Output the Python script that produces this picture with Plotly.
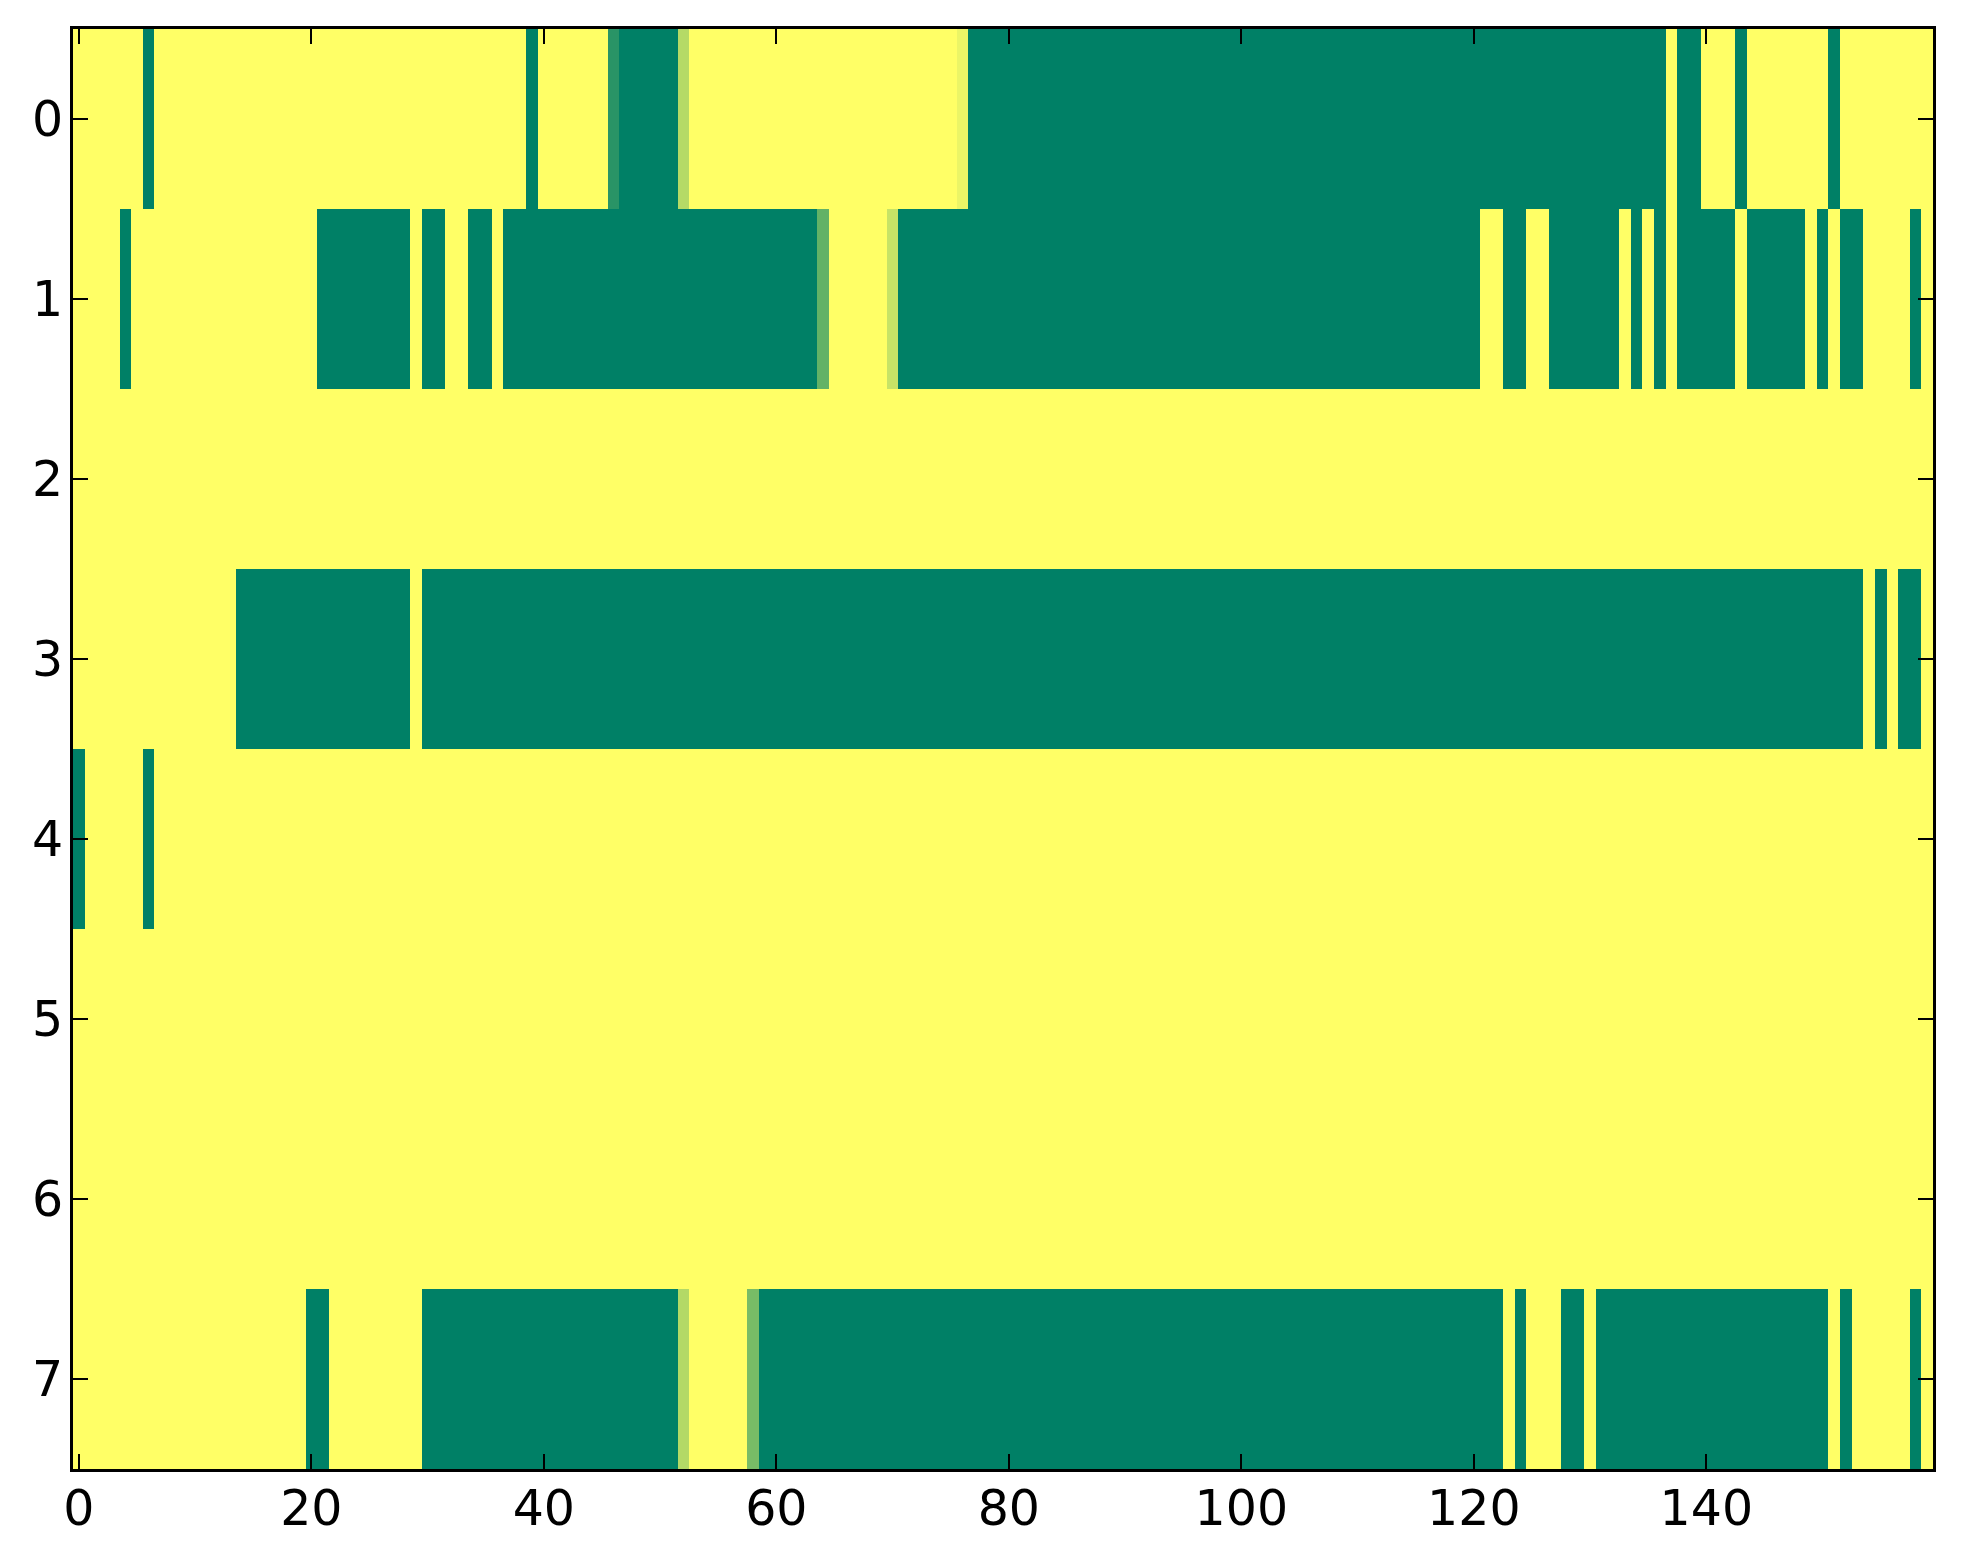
import plotly.graph_objects as go

# column indices and row labels
columns = list(range(160))
rows = list(range(8))
x_tick_values = [0, 20, 40, 60, 80, 100, 120, 140]
y_tick_values = [0, 1, 2, 3, 4, 5, 6, 7]

row_0 = [1, 1, 1, 1, 1, 1, 0, 1, 1, 1,
         1, 1, 1, 1, 1, 1, 1, 1, 1, 1,
         1, 1, 1, 1, 1, 1, 1, 1, 1, 1,
         1, 1, 1, 1, 1, 1, 1, 1, 1, 0,
         1, 1, 1, 1, 1, 1, 0.16, 0, 0, 0,
         0, 0, 0.71, 1, 1, 1, 1, 1, 1, 1,
         1, 1, 1, 1, 1, 1, 1, 1, 1, 1,
         1, 1, 1, 1, 1, 1, 0.92, 0, 0, 0,
         0, 0, 0, 0, 0, 0, 0, 0, 0, 0,
         0, 0, 0, 0, 0, 0, 0, 0, 0, 0,
         0, 0, 0, 0, 0, 0, 0, 0, 0, 0,
         0, 0, 0, 0, 0, 0, 0, 0, 0, 0,
         0, 0, 0, 0, 0, 0, 0, 0, 0, 0,
         0, 0, 0, 0, 0, 0, 0, 1, 0, 0,
         1, 1, 1, 0, 1, 1, 1, 1, 1, 1,
         1, 0, 1, 1, 1, 1, 1, 1, 1, 1]

row_1 = [1, 1, 1, 1, 0, 1, 1, 1, 1, 1,
         1, 1, 1, 1, 1, 1, 1, 1, 1, 1,
         1, 0, 0, 0, 0, 0, 0, 0, 0, 1,
         0, 0, 1, 1, 0, 0, 1, 0, 0, 0,
         0, 0, 0, 0, 0, 0, 0, 0, 0, 0,
         0, 0, 0, 0, 0, 0, 0, 0, 0, 0,
         0, 0, 0, 0, 0.39, 1, 1, 1, 1, 1,
         0.78, 0, 0, 0, 0, 0, 0, 0, 0, 0,
         0, 0, 0, 0, 0, 0, 0, 0, 0, 0,
         0, 0, 0, 0, 0, 0, 0, 0, 0, 0,
         0, 0, 0, 0, 0, 0, 0, 0, 0, 0,
         0, 0, 0, 0, 0, 0, 0, 0, 0, 0,
         0, 1, 1, 0, 0, 1, 1, 0, 0, 0,
         0, 0, 0, 1, 0, 1, 0, 1, 0, 0,
         0, 0, 0, 1, 0, 0, 0, 0, 0, 1,
         0, 1, 0, 0, 1, 1, 1, 1, 0, 1]

row_2 = [1, 1, 1, 1, 1, 1, 1, 1, 1, 1,
         1, 1, 1, 1, 1, 1, 1, 1, 1, 1,
         1, 1, 1, 1, 1, 1, 1, 1, 1, 1,
         1, 1, 1, 1, 1, 1, 1, 1, 1, 1,
         1, 1, 1, 1, 1, 1, 1, 1, 1, 1,
         1, 1, 1, 1, 1, 1, 1, 1, 1, 1,
         1, 1, 1, 1, 1, 1, 1, 1, 1, 1,
         1, 1, 1, 1, 1, 1, 1, 1, 1, 1,
         1, 1, 1, 1, 1, 1, 1, 1, 1, 1,
         1, 1, 1, 1, 1, 1, 1, 1, 1, 1,
         1, 1, 1, 1, 1, 1, 1, 1, 1, 1,
         1, 1, 1, 1, 1, 1, 1, 1, 1, 1,
         1, 1, 1, 1, 1, 1, 1, 1, 1, 1,
         1, 1, 1, 1, 1, 1, 1, 1, 1, 1,
         1, 1, 1, 1, 1, 1, 1, 1, 1, 1,
         1, 1, 1, 1, 1, 1, 1, 1, 1, 1]

row_3 = [1, 1, 1, 1, 1, 1, 1, 1, 1, 1,
         1, 1, 1, 1, 0, 0, 0, 0, 0, 0,
         0, 0, 0, 0, 0, 0, 0, 0, 0, 1,
         0, 0, 0, 0, 0, 0, 0, 0, 0, 0,
         0, 0, 0, 0, 0, 0, 0, 0, 0, 0,
         0, 0, 0, 0, 0, 0, 0, 0, 0, 0,
         0, 0, 0, 0, 0, 0, 0, 0, 0, 0,
         0, 0, 0, 0, 0, 0, 0, 0, 0, 0,
         0, 0, 0, 0, 0, 0, 0, 0, 0, 0,
         0, 0, 0, 0, 0, 0, 0, 0, 0, 0,
         0, 0, 0, 0, 0, 0, 0, 0, 0, 0,
         0, 0, 0, 0, 0, 0, 0, 0, 0, 0,
         0, 0, 0, 0, 0, 0, 0, 0, 0, 0,
         0, 0, 0, 0, 0, 0, 0, 0, 0, 0,
         0, 0, 0, 0, 0, 0, 0, 0, 0, 0,
         0, 0, 0, 0, 1, 0, 1, 0, 0, 1]

row_4 = [0, 1, 1, 1, 1, 1, 0, 1, 1, 1,
         1, 1, 1, 1, 1, 1, 1, 1, 1, 1,
         1, 1, 1, 1, 1, 1, 1, 1, 1, 1,
         1, 1, 1, 1, 1, 1, 1, 1, 1, 1,
         1, 1, 1, 1, 1, 1, 1, 1, 1, 1,
         1, 1, 1, 1, 1, 1, 1, 1, 1, 1,
         1, 1, 1, 1, 1, 1, 1, 1, 1, 1,
         1, 1, 1, 1, 1, 1, 1, 1, 1, 1,
         1, 1, 1, 1, 1, 1, 1, 1, 1, 1,
         1, 1, 1, 1, 1, 1, 1, 1, 1, 1,
         1, 1, 1, 1, 1, 1, 1, 1, 1, 1,
         1, 1, 1, 1, 1, 1, 1, 1, 1, 1,
         1, 1, 1, 1, 1, 1, 1, 1, 1, 1,
         1, 1, 1, 1, 1, 1, 1, 1, 1, 1,
         1, 1, 1, 1, 1, 1, 1, 1, 1, 1,
         1, 1, 1, 1, 1, 1, 1, 1, 1, 1]

row_5 = [1, 1, 1, 1, 1, 1, 1, 1, 1, 1,
         1, 1, 1, 1, 1, 1, 1, 1, 1, 1,
         1, 1, 1, 1, 1, 1, 1, 1, 1, 1,
         1, 1, 1, 1, 1, 1, 1, 1, 1, 1,
         1, 1, 1, 1, 1, 1, 1, 1, 1, 1,
         1, 1, 1, 1, 1, 1, 1, 1, 1, 1,
         1, 1, 1, 1, 1, 1, 1, 1, 1, 1,
         1, 1, 1, 1, 1, 1, 1, 1, 1, 1,
         1, 1, 1, 1, 1, 1, 1, 1, 1, 1,
         1, 1, 1, 1, 1, 1, 1, 1, 1, 1,
         1, 1, 1, 1, 1, 1, 1, 1, 1, 1,
         1, 1, 1, 1, 1, 1, 1, 1, 1, 1,
         1, 1, 1, 1, 1, 1, 1, 1, 1, 1,
         1, 1, 1, 1, 1, 1, 1, 1, 1, 1,
         1, 1, 1, 1, 1, 1, 1, 1, 1, 1,
         1, 1, 1, 1, 1, 1, 1, 1, 1, 1]

row_6 = [1, 1, 1, 1, 1, 1, 1, 1, 1, 1,
         1, 1, 1, 1, 1, 1, 1, 1, 1, 1,
         1, 1, 1, 1, 1, 1, 1, 1, 1, 1,
         1, 1, 1, 1, 1, 1, 1, 1, 1, 1,
         1, 1, 1, 1, 1, 1, 1, 1, 1, 1,
         1, 1, 1, 1, 1, 1, 1, 1, 1, 1,
         1, 1, 1, 1, 1, 1, 1, 1, 1, 1,
         1, 1, 1, 1, 1, 1, 1, 1, 1, 1,
         1, 1, 1, 1, 1, 1, 1, 1, 1, 1,
         1, 1, 1, 1, 1, 1, 1, 1, 1, 1,
         1, 1, 1, 1, 1, 1, 1, 1, 1, 1,
         1, 1, 1, 1, 1, 1, 1, 1, 1, 1,
         1, 1, 1, 1, 1, 1, 1, 1, 1, 1,
         1, 1, 1, 1, 1, 1, 1, 1, 1, 1,
         1, 1, 1, 1, 1, 1, 1, 1, 1, 1,
         1, 1, 1, 1, 1, 1, 1, 1, 1, 1]

row_7 = [1, 1, 1, 1, 1, 1, 1, 1, 1, 1,
         1, 1, 1, 1, 1, 1, 1, 1, 1, 1,
         0, 0, 1, 1, 1, 1, 1, 1, 1, 1,
         0, 0, 0, 0, 0, 0, 0, 0, 0, 0,
         0, 0, 0, 0, 0, 0, 0, 0, 0, 0,
         0, 0, 0.70, 1, 1, 1, 1, 1, 0.47, 0,
         0, 0, 0, 0, 0, 0, 0, 0, 0, 0,
         0, 0, 0, 0, 0, 0, 0, 0, 0, 0,
         0, 0, 0, 0, 0, 0, 0, 0, 0, 0,
         0, 0, 0, 0, 0, 0, 0, 0, 0, 0,
         0, 0, 0, 0, 0, 0, 0, 0, 0, 0,
         0, 0, 0, 0, 0, 0, 0, 0, 0, 0,
         0, 0, 0, 1, 0, 1, 1, 1, 0, 0,
         1, 0, 0, 0, 0, 0, 0, 0, 0, 0,
         0, 0, 0, 0, 0, 0, 0, 0, 0, 0,
         0, 1, 0, 1, 1, 1, 1, 1, 0, 1]

z = [row_0, row_1, row_2, row_3, row_4, row_5, row_6, row_7]

# matplotlib "summer" colormap
summer = [[0.0, "rgb(0,128,102)"], [1.0, "rgb(255,255,102)"]]

fig = go.Figure(
    go.Heatmap(
        z=z, x=columns, y=rows,
        colorscale=summer, zmin=0, zmax=1,
        showscale=False, zsmooth=False, hoverongaps=False,
    )
)

axis_font = dict(family="DejaVu Sans", size=49, color="black")

fig.update_layout(
    width=1955, height=1556,
    margin=dict(l=65, r=30, t=21, b=95),
    paper_bgcolor="white", plot_bgcolor="white",
    font=axis_font,
    xaxis=dict(
        range=[-0.5, 159.5], tickmode="array", tickvals=x_tick_values,
        ticks="inside", ticklen=15, tickwidth=2, tickcolor="black",
        showline=True, linecolor="black", linewidth=3, mirror="allticks",
        showgrid=False, zeroline=False, tickfont=axis_font,
        ticklabelstandoff=-6,
    ),
    yaxis=dict(
        range=[7.5, -0.5], tickmode="array", tickvals=y_tick_values,
        ticks="inside", ticklen=15, tickwidth=2, tickcolor="black",
        showline=True, linecolor="black", linewidth=3, mirror="allticks",
        showgrid=False, zeroline=False, tickfont=axis_font,
        ticklabelstandoff=-3,
    ),
)

fig.write_html("out.html")
